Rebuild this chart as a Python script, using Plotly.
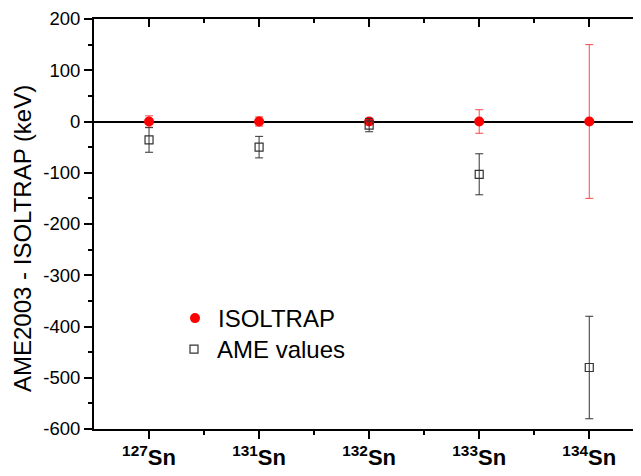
import plotly.graph_objects as go

# ---- data ----
mass_numbers = ["127", "131", "132", "133", "134"]
element = "Sn"
positions = [1, 2, 3, 4, 5]

isoltrap_values = [0, 0, 0, 0, 0]
isoltrap_errors = [11, 9, 6, 23, 150]

ame_values = [-36, -50, -7, -103, -480]
ame_errors = [24, 21, 13, 40, 100]

y_ticks = [200, 100, 0, -100, -200, -300, -400, -500, -600]
y_tick_text = [str(v) for v in y_ticks]  # plain hyphen-minus as in the original

tick_text = [f"<b><sup>{m}</sup>{element}</b>" for m in mass_numbers]

FONT = "Liberation Sans, Arial, Helvetica, sans-serif"
OFF = 8  # browser body margin
W, H = 641 - OFF, 476 - OFF
ML, MT, MB, MR = 94 - OFF, 19 - OFF, 47, 0
PW = W - ML - MR
PB = 429  # plot bottom in page px
PH = 410
x_range = [0.5, 5.47]
y_range = [-600, 200]


def px_x(page_x):
    return (page_x - 94) / PW


def px_y(page_y):
    return (PB - page_y) / PH


fig = go.Figure()

fig.add_trace(go.Scatter(
    x=positions, y=isoltrap_values, mode="markers", name="ISOLTRAP",
    legend="legend",
    marker=dict(symbol="circle", size=10, color="red", line=dict(width=0)),
    error_y=dict(type="data", array=isoltrap_errors, visible=True,
                 color="rgba(255,40,40,0.85)", thickness=1, width=4),
))
fig.add_trace(go.Scatter(
    x=positions, y=ame_values, mode="markers", name="AME values",
    legend="legend2",
    marker=dict(symbol="square-open", size=8, color="#333333",
                line=dict(width=1.2, color="#333333")),
    error_y=dict(type="data", array=ame_errors, visible=True,
                 color="#333333", thickness=1, width=4),
))
# helper trace for the mirrored (top/right) axes
fig.add_trace(go.Scatter(x=[None], y=[None], xaxis="x2", yaxis="y2",
                         showlegend=False, hoverinfo="skip"))

mid = [p + 0.5 for p in positions[:-1]]

leg_common = dict(xanchor="left", yanchor="top", itemwidth=36,
                  font=dict(size=24, family=FONT, color="black"),
                  bgcolor="rgba(0,0,0,0)", borderwidth=0)

fig.update_layout(
    width=W, height=H,
    margin=dict(l=ML, r=MR, t=MT, b=MB, pad=0),
    paper_bgcolor="white", plot_bgcolor="white",
    font=dict(family=FONT, color="black"),
    showlegend=True,
    legend=dict(x=px_x(172), y=px_y(296), **leg_common),
    legend2=dict(x=px_x(171), y=px_y(327), **leg_common),
    xaxis=dict(range=x_range, tickmode="array", tickvals=positions,
               ticktext=tick_text, tickfont=dict(size=22, family=FONT),
               ticks="outside", ticklen=8, tickwidth=1.5, tickcolor="black",
               minor=dict(tickmode="array", tickvals=mid, ticks="outside",
                          ticklen=4, tickwidth=1.5, tickcolor="black"),
               showline=True, linewidth=2, linecolor="black",
               showgrid=False, zeroline=False, fixedrange=True),
    yaxis=dict(range=y_range, tickmode="array", tickvals=y_ticks,
               ticktext=y_tick_text,
               tickfont=dict(size=18.5, family=FONT),
               ticks="outside", ticklen=8, tickwidth=1.5, tickcolor="black",
               minor=dict(dtick=50, ticks="outside", ticklen=4,
                          tickwidth=1.5, tickcolor="black"),
               showline=True, linewidth=2, linecolor="black",
               showgrid=False, zeroline=True, zerolinecolor="black",
               zerolinewidth=1.5),
    xaxis2=dict(range=x_range, overlaying="x", side="top", anchor="y2",
                tickmode="array", tickvals=positions, showticklabels=False,
                ticks="inside", ticklen=8, tickwidth=1.5, tickcolor="black",
                minor=dict(tickmode="array", tickvals=mid, ticks="inside",
                           ticklen=4, tickwidth=1.5, tickcolor="black"),
                showline=True, linewidth=2, linecolor="black",
                showgrid=False, zeroline=False),
    yaxis2=dict(range=y_range, overlaying="y", side="right", anchor="x2",
                tickmode="array", tickvals=y_ticks, showticklabels=False,
                ticks="inside", ticklen=8, tickwidth=1.5, tickcolor="black",
                minor=dict(dtick=50, ticks="inside", ticklen=4,
                           tickwidth=1.5, tickcolor="black"),
                showline=True, linewidth=2, linecolor="black",
                showgrid=False, zeroline=False),
    annotations=[dict(text="AME2003 - ISOLTRAP (keV)", textangle=-90,
                      xref="paper", yref="paper",
                      x=px_x(22), y=px_y(239),
                      xanchor="center", yanchor="middle", showarrow=False,
                      font=dict(size=24, family=FONT, color="black"))],
)

fig.write_html("out.html")
